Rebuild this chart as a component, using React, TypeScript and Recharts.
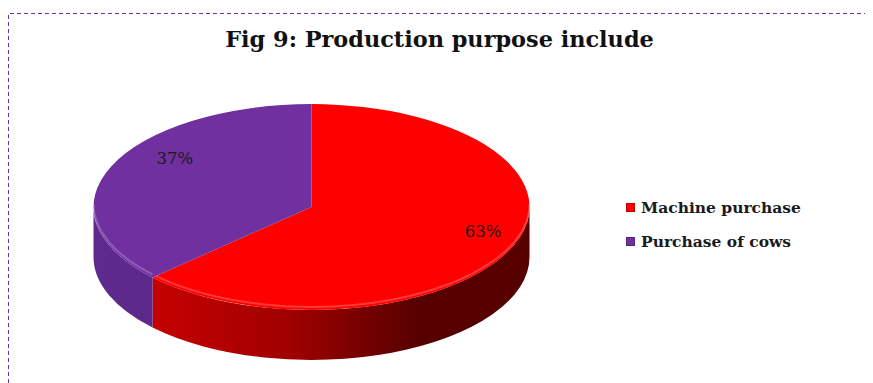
import { PieChart, Pie, Cell, Legend } from "recharts";

// values
const categories = ["Machine purchase", "Purchase of cows"];
const shares = [63, 37];
const topColors = ["#FF0000", "#7030A0"];
const sideFrom = ["#d60000", "#5f2a8e"];
const sideTo = ["#560000", "#4a1f72"];

const data = categories.map((name, i) => ({ name, value: shares[i] }));

const W = 865;
const H = 375;
const TILT = 0.472; // vertical squash of the top face
const DEPTH = 50;
const FONT = "'DejaVu Serif', 'Liberation Serif', serif";

function Slice3D(props: any) {
  const { cx, cy, outerRadius, startAngle, endAngle, midAngle, index, percent } = props;
  const rx = outerRadius;
  const ry = outerRadius * TILT;
  const rad = Math.PI / 180;
  const pt = (a: number, dy = 0) =>
    `${cx + rx * Math.cos(a * rad)},${cy - ry * Math.sin(a * rad) + dy}`;

  const s = Math.max(startAngle, endAngle);
  const e = Math.min(startAngle, endAngle);
  const large = s - e > 180 ? 1 : 0;
  const top = `M${cx},${cy} L${pt(s)} A${rx},${ry} 0 ${large} 1 ${pt(e)} Z`;

  // front wall = parts of the arc on the lower half of the ellipse
  const walls: string[] = [];
  const rims: string[] = [];
  for (let k = -2; k <= 1; k++) {
    const lo = Math.max(e, -180 + 360 * k);
    const hi = Math.min(s, 360 * k);
    if (hi > lo) {
      walls.push(
        `M${pt(hi)} A${rx},${ry} 0 0 1 ${pt(lo)} L${pt(lo, DEPTH)} A${rx},${ry} 0 0 0 ${pt(hi, DEPTH)} Z`
      );
      rims.push(`M${pt(hi, -3)} A${rx},${ry} 0 0 1 ${pt(lo, -3)}`);
    }
  }

  const sin = Math.sin(midAngle * rad);
  const fx = 0.77 - 0.22 * sin;
  const lx = cx + rx * fx * Math.cos(midAngle * rad);
  const ly = cy - ry * 0.9 * sin - 12;
  const gid = `side-${index}`;

  return (
    <g>
      <defs>
        <linearGradient id={gid} gradientUnits="userSpaceOnUse" x1={cx - rx} y1={0} x2={cx + rx} y2={0}>
          <stop offset="0" stopColor={sideFrom[index]} />
          <stop offset="0.45" stopColor={index === 0 ? "#a00000" : "#55267f"} />
          <stop offset="0.75" stopColor={sideTo[index]} />
          <stop offset="1" stopColor={sideTo[index]} />
        </linearGradient>
      </defs>
      {walls.map((d, i) => (
        <path key={i} d={d} fill={`url(#${gid})`} />
      ))}
      <path d={top} fill={topColors[index]} />
      {rims.map((d, i) => (
        <path key={i} d={d} fill="none" stroke="rgba(255,255,255,0.22)" strokeWidth={2} />
      ))}
      <text
        x={lx}
        y={ly}
        textAnchor="middle"
        dominantBaseline="central"
        fontFamily={FONT}
        fontSize={16.5}
        fill="#1a1a1a"
      >
        {`${Math.round(percent * 100)}%`}
      </text>
    </g>
  );
}

function LegendBox(props: any) {
  const items = props.payload || [];
  return (
    <div>
      {items.map((it: any, i: number) => (
        <div key={i} style={{ display: "flex", alignItems: "center", height: 34 }}>
          <span
            style={{
              width: 9,
              height: 9,
              background: it.color,
              boxShadow: "inset 0 0 0 1px rgba(0,0,0,0.25)",
              marginRight: 6,
            }}
          />
          <span style={{ fontFamily: FONT, fontWeight: "bold", fontSize: 15.5, color: "#1a1a1a" }}>
            {it.value}
          </span>
        </div>
      ))}
    </div>
  );
}

export default function App() {
  return (
    <div style={{ position: "relative", width: W, height: H }}>
      <PieChart width={W} height={H} margin={{ top: 0, right: 0, bottom: 0, left: 0 }}>
        <Pie
          data={data}
          dataKey="value"
          nameKey="name"
          cx={303.5}
          cy={199}
          outerRadius={218}
          startAngle={90}
          endAngle={-270}
          fillOpacity={0}
          stroke="none"
          label={Slice3D}
          labelLine={false}
          isAnimationActive={false}
        >
          {data.map((d, i) => (
            <Cell key={d.name} fill={topColors[i]} />
          ))}
        </Pie>
        <Legend
          layout="vertical"
          align="right"
          verticalAlign="middle"
          content={LegendBox}
          wrapperStyle={{ left: 618, top: 182, right: "auto", bottom: "auto", width: 220 }}
        />
      </PieChart>
      <svg
        width={W}
        height={H}
        style={{ position: "absolute", left: 0, top: 0, pointerEvents: "none" }}
      >
        <path
          d={`M0.5,${H} L0.5,5.5 L${W},5.5`}
          fill="none"
          stroke="#7030A0"
          strokeWidth={1}
          strokeDasharray="4 3"
        />
        <text
          x={431.5}
          y={39}
          textAnchor="middle"
          fontFamily={FONT}
          fontWeight="bold"
          fontSize={22.4}
          fill="#111"
        >
          Fig 9: Production purpose include
        </text>
      </svg>
    </div>
  );
}
